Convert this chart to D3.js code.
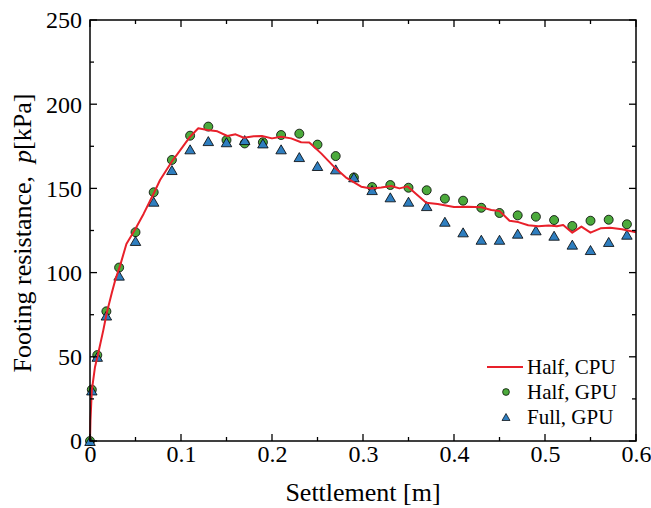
<!DOCTYPE html>
<html><head><meta charset="utf-8">
<script src="https://cdn.jsdelivr.net/npm/d3@7"></script>
<style>
html,body{margin:0;padding:0;background:#fff;}
text{font-family:"Liberation Serif","Times New Roman",serif;fill:#000;}
</style></head>
<body>
<svg id="chart" width="651" height="508"></svg>
<script>
// ---- data ----
const cpuX = [0,0.0005,0.002,0.0055,0.009,0.0147,0.0184,0.024,0.028,0.033,0.040,0.050,0.059,0.070,0.077,0.090,0.0956,0.110,0.119,0.129,0.140,0.151,0.160,0.169,0.180,0.189,0.200,0.210,0.221,0.232,0.241,0.254,0.268,0.281,0.298,0.309,0.320,0.331,0.340,0.349,0.360,0.3695,0.382,0.400,0.4155,0.430,0.441,0.450,0.461,0.4706,0.4816,0.4926,0.504,0.513,0.520,0.530,0.540,0.550,0.561,0.5717,0.5846,0.600];
const cpuY = [0,12,30,44,52,66,76,88,96,104,117,126,135,147,155,166,170,180.7,185.7,184.7,183.9,181.1,182.1,180.1,181,181.1,179.7,180.7,179.7,177.4,177.2,170.8,162.9,156.6,151,150,150.6,151.4,150,151.2,146,141.5,140.7,138.9,139.1,138.8,137.2,136.6,130.8,130,128.1,127.5,127.9,127.5,128.3,123.7,127.3,123.7,126.3,126.7,125.7,124];
const gpuX = [0,0.002,0.008,0.018,0.032,0.05,0.07,0.09,0.11,0.13,0.15,0.17,0.19,0.21,0.23,0.25,0.27,0.29,0.31,0.33,0.35,0.37,0.39,0.41,0.43,0.45,0.47,0.49,0.51,0.53,0.55,0.57,0.59];
const halfGpuY = [0,30.5,51,77,103,124,147.7,166.9,181.3,186.7,178.7,176.7,177.4,181.7,182.5,176,169.2,156.5,150.8,152,150.4,148.9,143.9,142.7,138.5,135.4,134,133.2,131.2,127.7,130.8,131.4,128.7];
const fullGpuY = [0,30,50,74.5,98.2,118.8,142.1,160.9,173.2,178.1,177.4,178.7,176.7,173.2,168.6,163.3,161.3,156.6,149,144.7,142.1,139.5,130.2,123.9,119.5,119.5,123.1,125.1,121.9,116.6,113.4,118.2,122.5];
const xTicks = [0,0.1,0.2,0.3,0.4,0.5,0.6];
const yTicks = [0,50,100,150,200,250];
const legendLabels = ["Half, CPU","Half, GPU","Full, GPU"];

// ---- layout ----
const L = 90, R = 636, T = 20, B = 441;
const svg = d3.select("#chart");
const x = d3.scaleLinear().domain([0,0.6]).range([L,R]);
const y = d3.scaleLinear().domain([0,250]).range([B,T]);

const RED = "#e8202a", GREEN = "#4caa3c", BLUE = "#2f7ebf";

function triPath(w,h){return `M0,${-h/2}L${w/2},${h/2}L${-w/2},${h/2}Z`;}

const plot = svg.append("g");
plot.selectAll("circle.half").data(gpuX.map((v,i)=>[v,halfGpuY[i]])).join("circle")
  .attr("class","half").attr("cx",d=>x(d[0])).attr("cy",d=>y(d[1])).attr("r",4.5)
  .attr("fill",GREEN).attr("stroke","#000").attr("stroke-width",0.8);
plot.selectAll("path.full").data(gpuX.map((v,i)=>[v,fullGpuY[i]])).join("path")
  .attr("class","full").attr("d",triPath(10.5,9))
  .attr("transform",d=>`translate(${x(d[0])},${y(d[1])})`)
  .attr("fill",BLUE).attr("stroke","#000").attr("stroke-width",0.8);
const line = d3.line().x(d=>x(d[0])).y(d=>y(d[1]));
plot.append("path").datum(cpuX.map((v,i)=>[v,cpuY[i]])).attr("d",line)
  .attr("fill","none").attr("stroke",RED).attr("stroke-width",2).attr("stroke-linejoin","round");

// axes (inward ticks on all sides)
const fmtX = d => d===0 ? "0" : d3.format(".1f")(d);
const xMinor = d3.range(0,0.6001,0.05);
const yMinor = d3.range(0,250.01,25);
function drawTicks(g, vals, isX, side){
  vals.forEach(v=>{
    const major = isX ? Math.abs(v*10 - Math.round(v*10))<1e-6 : (v%50===0);
    const len = major?7:4;
    if(isX){
      const px = x(v);
      if(side==="b") g.append("line").attr("x1",px).attr("x2",px).attr("y1",B).attr("y2",B-len);
      else g.append("line").attr("x1",px).attr("x2",px).attr("y1",T).attr("y2",T+len);
    } else {
      const py = y(v);
      if(side==="l") g.append("line").attr("y1",py).attr("y2",py).attr("x1",L).attr("x2",L+len);
      else g.append("line").attr("y1",py).attr("y2",py).attr("x1",R).attr("x2",R-len);
    }
  });
}
const axg = svg.append("g").attr("stroke","#000").attr("stroke-width",1.3);
drawTicks(axg,xMinor,true,"b");
drawTicks(axg,xMinor,true,"t");
drawTicks(axg,yMinor,false,"l");
drawTicks(axg,yMinor,false,"r");
svg.append("rect").attr("x",L).attr("y",T).attr("width",R-L).attr("height",B-T)
  .attr("fill","none").attr("stroke","#000").attr("stroke-width",1.5);

const xAxis = svg.append("g").attr("transform",`translate(0,${B})`)
  .call(d3.axisBottom(x).tickValues(xTicks).tickFormat(fmtX).tickSize(0).tickPadding(21));
xAxis.select(".domain").remove();
xAxis.selectAll("text").attr("font-size",24).attr("dy",0).attr("fill","#000");
const yAxis = svg.append("g").attr("transform",`translate(${L},0)`)
  .call(d3.axisLeft(y).tickValues(yTicks).tickSize(0).tickPadding(8));
yAxis.select(".domain").remove();
yAxis.selectAll("text").attr("font-size",24).attr("dy","0.33em").attr("fill","#000");

// axis titles
svg.append("text").attr("x",(L+R)/2).attr("y",501).attr("text-anchor","middle")
  .attr("font-size",26).text("Settlement [m]");
const yl = svg.append("text").attr("transform",`translate(31,233) rotate(-90)`)
  .attr("text-anchor","middle").attr("font-size",26);
yl.append("tspan").text("Footing resistance,\u00a0\u00a0");
yl.append("tspan").attr("font-style","italic").text("p");
yl.append("tspan").text("[kPa]");

// legend
const lg = svg.append("g");
const rowsY = [367, 392, 417];
lg.append("line").attr("x1",487).attr("x2",523).attr("y1",rowsY[0]).attr("y2",rowsY[0])
  .attr("stroke",RED).attr("stroke-width",2);
lg.append("circle").attr("cx",506).attr("cy",rowsY[1]).attr("r",3.4)
  .attr("fill",GREEN).attr("stroke","#000").attr("stroke-width",0.7);
lg.append("path").attr("d",triPath(8,7)).attr("transform",`translate(506,${rowsY[2]})`)
  .attr("fill",BLUE).attr("stroke","#000").attr("stroke-width",0.7);
legendLabels.forEach((t,i)=>{
  lg.append("text").attr("x",527).attr("y",rowsY[i]).attr("dy","0.33em")
    .attr("font-size",21).text(t);
});
</script>
</body></html>
